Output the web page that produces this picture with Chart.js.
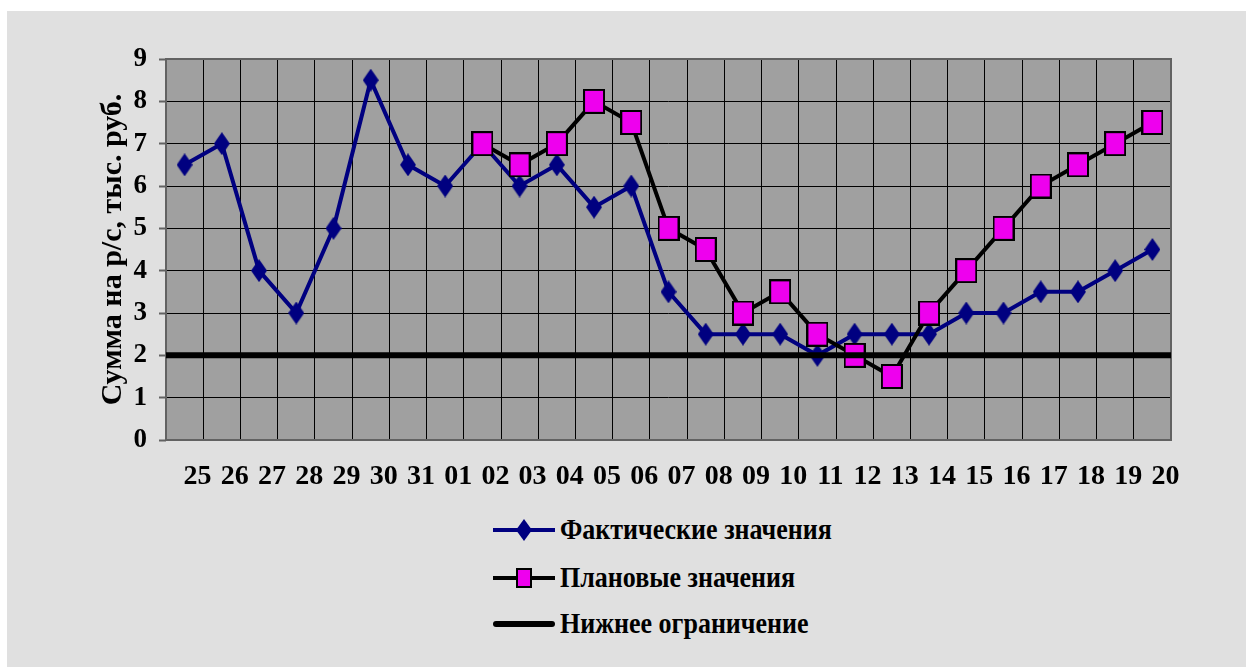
<!DOCTYPE html>
<html lang="ru">
<head>
<meta charset="utf-8">
<title>Сумма на р/с</title>
<script src="https://cdn.jsdelivr.net/npm/chart.js@4/dist/chart.umd.min.js"></script>
<style>
  html, body { margin: 0; padding: 0; background: #ffffff; }
  #frame {
    position: absolute; left: 7px; top: 11px;
    width: 1239px; height: 656px;
    background: #e0e0e0;
  }
  #sumChart { position: absolute; left: 0; top: 0; }
  .legend { position: absolute; left: 486px; top: 500px; }
  .legend-row {
    position: absolute; left: 0; height: 30px; width: 420px;
    display: flex; align-items: center; white-space: nowrap;
  }
  .legend-row svg { flex: none; }
  .legend-row span {
    margin-left: 5px;
    font: bold 26px "Liberation Serif", "Times New Roman", serif;
    color: #000;
    display: inline-block;
    transform: scaleY(1.15);
  }
</style>
</head>
<body>
<div id="frame">
  <canvas id="sumChart" width="1239" height="495"></canvas>
  <div class="legend">
    <div class="legend-row" style="top:4px">
      <svg width="62" height="26">
        <line x1="0" y1="13" x2="62" y2="13" stroke="#000080" stroke-width="4"/>
        <polygon points="31,2 39,13 31,24 23,13" fill="#000080"/>
      </svg>
      <span>Фактические значения</span>
    </div>
    <div class="legend-row" style="top:52px">
      <svg width="62" height="26">
        <line x1="0" y1="13" x2="62" y2="13" stroke="#000" stroke-width="4"/>
        <rect x="24" y="4" width="14" height="18" fill="#ee00ee" stroke="#000" stroke-width="2"/>
      </svg>
      <span>Плановые значения</span>
    </div>
    <div class="legend-row" style="top:98px">
      <svg width="62" height="26">
        <line x1="3" y1="13" x2="59" y2="13" stroke="#000" stroke-width="6" stroke-linecap="round"/>
      </svg>
      <span>Нижнее ограничение</span>
    </div>
  </div>
</div>

<script>
// Days of the period
const days = ['25', '26', '27', '28', '29', '30', '31', '01', '02', '03', '04', '05', '06', '07',
              '08', '09', '10', '11', '12', '13', '14', '15', '16', '17', '18', '19', '20'];

// Actual balance, thousand rub.
const factValues = [6.5, 7, 4, 3, 5, 8.5, 6.5, 6, 7, 6, 6.5, 5.5, 6, 3.5,
                    2.5, 2.5, 2.5, 2, 2.5, 2.5, 2.5, 3, 3, 3.5, 3.5, 4, 4.5];

// Planned balance (plan starts on the 02)
const planValues = [null, null, null, null, null, null, null, null, 7, 6.5, 7, 8, 7.5, 5,
                    4.5, 3, 3.5, 2.5, 2, 1.5, 3, 4, 5, 6, 6.5, 7, 7.5];

// Lower limit, spans the whole period
const lowerLimit = 2;
const limitSpan = [0, days.length];

const yTicks = { min: 0, max: 9, step: 1 };

const serif = '"Liberation Serif", "Times New Roman", serif';

// marker sprites: tall navy diamond and magenta square
function diamondMarker(w, h, color) {
    const c = document.createElement('canvas');
    c.width = w; c.height = h;
    const g = c.getContext('2d');
    g.fillStyle = color;
    g.beginPath();
    g.moveTo(w / 2, 0);
    g.lineTo(w, h / 2);
    g.lineTo(w / 2, h);
    g.lineTo(0, h / 2);
    g.closePath();
    g.fill();
    return c;
}

function squareMarker(w, h, color) {
    const c = document.createElement('canvas');
    c.width = w; c.height = h;
    const g = c.getContext('2d');
    g.fillStyle = color;
    g.fillRect(1, 1, w - 2, h - 2);
    g.strokeStyle = '#000';
    g.lineWidth = 2;
    g.strokeRect(1, 1, w - 2, h - 2);
    return c;
}

// gray plot background + frame
const plotBox = {
    id: 'plotBox',
    beforeDraw(chart) {
        const { ctx, chartArea: a } = chart;
        ctx.save();
        ctx.fillStyle = '#a0a0a0';
        ctx.fillRect(a.left, a.top, a.right - a.left, a.bottom - a.top);
        ctx.restore();
    },
    beforeDatasetsDraw(chart) {
        const { ctx, chartArea: a } = chart;
        ctx.save();
        ctx.strokeStyle = '#626262';
        ctx.lineWidth = 2;
        ctx.strokeRect(a.left, a.top, a.right - a.left, a.bottom - a.top);
        ctx.restore();
    }
};

const ctx = document.getElementById('sumChart').getContext('2d');

const sumChart = new Chart(ctx, {
    type: 'line',
    data: {
        labels: days,
        datasets: [
            {
                label: 'Нижнее ограничение',
                xAxisID: 'xl',
                data: limitSpan.map(x => ({ x: x, y: lowerLimit })),
                borderColor: '#000',
                borderWidth: 6,
                pointRadius: 0,
                order: 0
            },
            {
                label: 'Плановые значения',
                xAxisID: 'x',
                data: planValues,
                borderColor: '#000',
                borderWidth: 4,
                pointStyle: squareMarker(22, 25, '#ee00ee'),
                pointRadius: 11,
                order: 1
            },
            {
                label: 'Фактические значения',
                xAxisID: 'x',
                data: factValues,
                borderColor: '#000080',
                borderWidth: 4,
                pointStyle: diamondMarker(16, 23, '#000080'),
                pointRadius: 11,
                order: 2
            }
        ]
    },
    options: {
        responsive: false,
        animation: false,
        layout: { padding: { left: 0, top: 48, right: 75, bottom: 0 } },
        elements: { line: { tension: 0 } },
        plugins: {
            legend: { display: false },
            tooltip: { enabled: false }
        },
        scales: {
            x: {
                type: 'category',
                offset: true,
                grid: { offset: true, color: '#000', lineWidth: 1, drawTicks: false },
                border: { display: false },
                ticks: {
                    color: '#000',
                    padding: 20,
                    labelOffset: 13,
                    maxRotation: 0,
                    autoSkip: false,
                    font: { family: serif, size: 28, weight: 'bold' }
                },
                afterFit(scale) { scale.height = 66; }
            },
            xl: {
                type: 'linear',
                display: false,
                min: limitSpan[0],
                max: limitSpan[1]
            },
            y: {
                min: yTicks.min,
                max: yTicks.max,
                grid: { color: '#000', lineWidth: 1, tickLength: 7, tickColor: '#626262', tickWidth: 2 },
                border: { display: false },
                ticks: {
                    stepSize: yTicks.step,
                    color: '#000',
                    padding: 12,
                    font: { family: serif, size: 27, weight: 'bold' }
                },
                title: {
                    display: true,
                    text: 'Сумма на р/с, тыс. руб.',
                    color: '#000',
                    padding: { top: 88, bottom: 0 },
                    font: { family: serif, size: 30, weight: 'bold' }
                },
                afterFit(scale) { scale.width = 159; }
            }
        }
    },
    plugins: [plotBox]
});
</script>
</body>
</html>
